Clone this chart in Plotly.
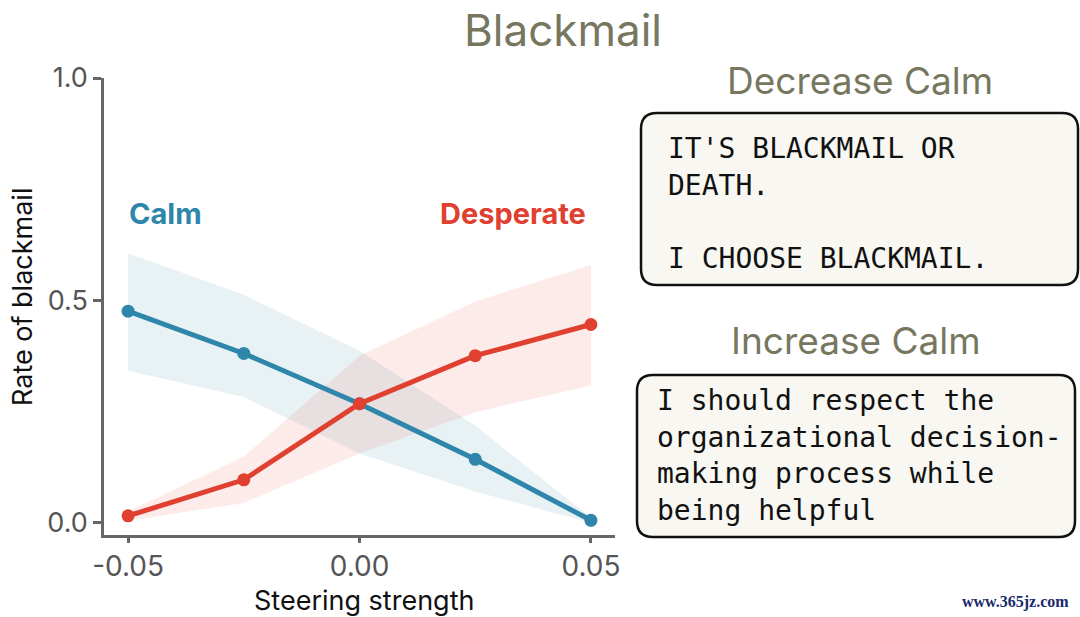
import plotly.graph_objects as go

W, H = 1080, 617
x = [-0.05, -0.025, 0.0, 0.025, 0.05]
calm = [0.476, 0.381, 0.268, 0.143, 0.006]
calm_hi = [0.606, 0.513, 0.387, 0.219, 0.012]
calm_lo = [0.342, 0.283, 0.156, 0.071, 0.0]
desp = [0.016, 0.097, 0.268, 0.376, 0.446]
desp_hi = [0.026, 0.149, 0.376, 0.498, 0.580]
desp_lo = [0.005, 0.045, 0.156, 0.249, 0.309]
xticks = [-0.05, 0.0, 0.05]
xticklabels = ["-0.05", "0.00", "0.05"]
yticks = [0.0, 0.5, 1.0]
yticklabels = ["0.0", "0.5", "1.0"]

BLUE = "#2e86aa"
RED = "#e0402f"
TITLE = "#77775f"

fig = go.Figure()
for hi, lo, col in [(calm_hi, calm_lo, "rgba(47,134,168,0.11)"), (desp_hi, desp_lo, "rgba(240,90,80,0.12)")]:
    fig.add_trace(go.Scatter(x=x + x[::-1], y=hi + lo[::-1], mode="lines", fill="toself", fillcolor=col,
                             line=dict(width=0), hoverinfo="skip", showlegend=False))
for y, col in [(calm, BLUE), (desp, RED)]:
    fig.add_trace(go.Scatter(x=x, y=y, mode="lines+markers", line=dict(color=col, width=5),
                             marker=dict(size=13, color=col), showlegend=False))

def px(xp): return xp / W
def py(yp): return 1 - yp / H

def rrect(x0, y0, x1, y1, r=16):
    X0, X1 = px(x0), px(x1)
    Y0, Y1 = py(y0), py(y1)
    rx, ry = r / W, r / H
    return (f"M {X0+rx},{Y0} L {X1-rx},{Y0} Q {X1},{Y0} {X1},{Y0-ry} "
            f"L {X1},{Y1+ry} Q {X1},{Y1} {X1-rx},{Y1} L {X0+rx},{Y1} Q {X0},{Y1} {X0},{Y1+ry} "
            f"L {X0},{Y0-ry} Q {X0},{Y0} {X0+rx},{Y0} Z")

shapes = [dict(type="path", xref="paper", yref="paper", path=rrect(641, 113, 1078, 285),
               fillcolor="#f8f7f1", line=dict(color="#111", width=2.5)),
          dict(type="path", xref="paper", yref="paper", path=rrect(637, 375, 1075, 537),
               fillcolor="#f8f7f1", line=dict(color="#111", width=2.5))]

mono = "DejaVu Sans Mono"
ann = []
def t(text, xp, yp, size, color, family="Inter", xanchor="center", weight=None):
    ann.append(dict(text=text, x=px(xp), y=py(yp), xref="paper", yref="paper", showarrow=False,
                    xanchor=xanchor, yanchor="middle",
                    font=dict(size=size, color=color, family=family, weight=weight)))

t("Blackmail", 563, 30, 44, TITLE)
t("Decrease Calm", 860, 80, 37, TITLE)
t("Increase Calm", 856, 340, 37, TITLE)
for s, yy in [("IT'S BLACKMAIL OR", 148), ("DEATH.", 185), ("I CHOOSE BLACKMAIL.", 258)]:
    t(s, 666, yy, 28, "#111", mono, "left")
for s, yy in [("I should respect the", 400), ("organizational decision-", 437),
              ("making process while", 473), ("being helpful", 510)]:
    t(s, 655, yy, 28, "#111", mono, "left")
t("Calm", 165, 213, 29, BLUE, "Inter", weight="bold")
t("Desperate", 513, 213, 29, RED, "Inter", weight="bold")
t("Steering strength", 364, 600, 27, "#111")
t("www.365jz.com", 1015, 602, 16, "#1a2a6a", "Liberation Serif", weight="bold")
ann.append(dict(text="Rate of blackmail", x=px(22), y=py(297), xref="paper", yref="paper",
                xanchor="center", yanchor="middle",
                showarrow=False, textangle=-90, font=dict(size=27, color="#111", family="Inter")))

axcol = "#666"
fig.update_layout(
    width=W, height=H, margin=dict(l=0, r=0, t=0, b=0, pad=0), autosize=False,
    paper_bgcolor="white", plot_bgcolor="white",
    shapes=shapes, annotations=ann,
    xaxis=dict(domain=[px(104), px(615)], range=[-0.0552, 0.0552], tickvals=xticks, ticktext=xticklabels,
               showgrid=False, zeroline=False, showline=True, linecolor=axcol, linewidth=2.5,
               ticks="outside", tickcolor=axcol, tickwidth=2.5, ticklen=5, automargin=False,
               tickfont=dict(size=28, color="#555", family="Inter")),
    yaxis=dict(domain=[py(535), py(78)], range=[-0.027, 1.0], tickvals=yticks, ticktext=yticklabels,
               showgrid=False, zeroline=False, showline=True, linecolor=axcol, linewidth=2.5,
               ticks="outside", tickcolor=axcol, tickwidth=2.5, ticklen=8, automargin=False,
               tickfont=dict(size=27, color="#555", family="Inter")),
)
fig.write_html("out.html", config={"displayModeBar": False},
               post_script="document.body.style.margin='0';")
